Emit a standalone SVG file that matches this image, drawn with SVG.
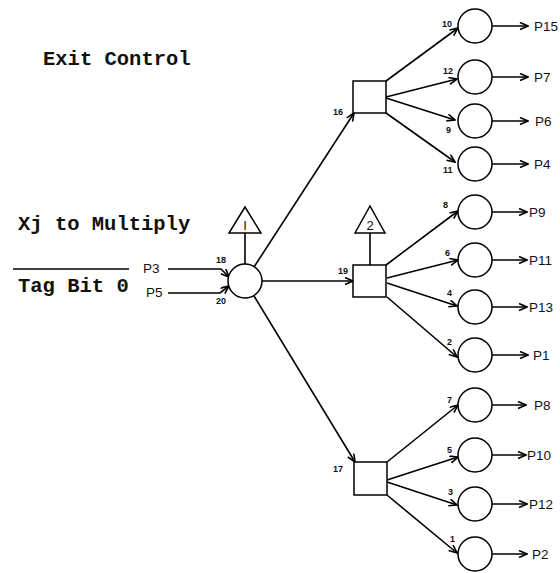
<svg xmlns="http://www.w3.org/2000/svg" width="560" height="573" viewBox="0 0 560 573">
<style>
.ln{stroke:#000;stroke-width:1.6;fill:none}
.ar{marker-end:url(#ah)}
.nd{fill:#fff;stroke:#000;stroke-width:1.5}
.t{font-family:"Liberation Mono",monospace;font-weight:bold;font-size:20.5px;fill:#111}
.p{font-family:"Liberation Sans",Arial,sans-serif;font-size:13.5px;fill:#111}
.n{font-family:"Liberation Sans",Arial,sans-serif;font-weight:bold;font-size:9px;fill:#111}
.tri{font-family:"Liberation Sans",Arial,sans-serif;font-size:13px;fill:#111}
</style>
<defs>
<marker id="ah" markerWidth="10" markerHeight="10" refX="9" refY="4" orient="auto" markerUnits="userSpaceOnUse">
<path d="M1,0.5 L9,4 L1,7.5" fill="none" stroke="#000" stroke-width="1.6"/>
</marker>
</defs>
<rect width="560" height="573" fill="#fff"/>
<g id="labels">
<text class="t" x="43" y="65">Exit Control</text>
<text class="t" x="18" y="230">Xj to Multiply</text>
<line x1="13" y1="269" x2="129" y2="269" stroke="#000" stroke-width="1.6"/>
<text class="t" x="18" y="292">Tag Bit 0</text>
</g>
<g id="connectors">
<path class="ln ar" d="M168,269 H221 L229,277"/>
<path class="ln ar" d="M168,293 H220 L229,286"/>
<line class="ln" x1="245" y1="233" x2="245" y2="264"/>
<line class="ln" x1="370" y1="233" x2="370" y2="265"/>
<line class="ln ar" x1="254" y1="267" x2="354" y2="113"/>
<line class="ln ar" x1="262" y1="281" x2="353" y2="281"/>
<line class="ln ar" x1="254" y1="296" x2="355" y2="462"/>
<line class="ln ar" x1="386" y1="81" x2="458" y2="28"/>
<line class="ln ar" x1="386" y1="97" x2="457" y2="79"/>
<line class="ln ar" x1="386" y1="98" x2="455" y2="120"/>
<line class="ln ar" x1="386" y1="113" x2="455" y2="162"/>
<line class="ln ar" x1="386" y1="265" x2="458" y2="211"/>
<line class="ln ar" x1="387" y1="278" x2="458" y2="260"/>
<line class="ln ar" x1="387" y1="283" x2="457" y2="306"/>
<line class="ln ar" x1="387" y1="297" x2="457" y2="357"/>
<line class="ln ar" x1="387" y1="462" x2="458" y2="405"/>
<line class="ln ar" x1="387" y1="480" x2="458" y2="457"/>
<line class="ln ar" x1="387" y1="482" x2="457" y2="505"/>
<line class="ln ar" x1="387" y1="495" x2="457" y2="553"/>
<line class="ln ar" x1="492" y1="26" x2="528" y2="26"/>
<line class="ln ar" x1="492" y1="77" x2="528" y2="77"/>
<line class="ln ar" x1="492" y1="121" x2="528" y2="121"/>
<line class="ln ar" x1="492" y1="164" x2="528" y2="164"/>
<line class="ln ar" x1="492" y1="212" x2="527" y2="212"/>
<line class="ln ar" x1="492" y1="260" x2="527" y2="260"/>
<line class="ln ar" x1="492" y1="307" x2="527" y2="307"/>
<line class="ln ar" x1="492" y1="355" x2="528" y2="355"/>
<line class="ln ar" x1="492" y1="405" x2="526" y2="405"/>
<line class="ln ar" x1="492" y1="455" x2="526" y2="455"/>
<line class="ln ar" x1="492" y1="504" x2="527" y2="504"/>
<line class="ln ar" x1="492" y1="554" x2="527" y2="554"/>
</g>
<g id="inputs">
<text class="p" x="143" y="273" font-size="13">P3</text>
<text class="p" x="146" y="297" font-size="13">P5</text>
<text class="n" x="216" y="263">18</text>
<text class="n" x="216" y="304">20</text>
</g>
<g id="main"><circle class="nd" cx="245" cy="281" r="17"/></g>
<g id="tri1"><polygon class="nd" points="245,207 229,233 261,233"/><text class="tri" x="245" y="230" text-anchor="middle" font-size="12">I</text></g>
<g id="tri2"><polygon class="nd" points="370,206 355,233 385,233"/><text class="tri" x="370" y="230" text-anchor="middle">2</text></g>
<g id="box16"><rect class="nd" x="353" y="81" width="33" height="32"/><text class="n" x="333" y="115">16</text></g>
<g id="box19"><rect class="nd" x="353" y="265" width="33" height="32"/><text class="n" x="338" y="274">19</text></g>
<g id="box17"><rect class="nd" x="354" y="462" width="33" height="33"/><text class="n" x="333" y="472">17</text></g>
<g id="o10"><circle class="nd" cx="475" cy="26" r="17"/><text class="n" x="442" y="27">10</text><text class="p" x="534" y="31">P15</text></g>
<g id="o12"><circle class="nd" cx="475" cy="77" r="17"/><text class="n" x="443" y="74">12</text><text class="p" x="534" y="82">P7</text></g>
<g id="o9"><circle class="nd" cx="475" cy="121" r="17"/><text class="n" x="446" y="133">9</text><text class="p" x="535" y="126">P6</text></g>
<g id="o11"><circle class="nd" cx="475" cy="164" r="17"/><text class="n" x="443" y="173">11</text><text class="p" x="534" y="169">P4</text></g>
<g id="o8"><circle class="nd" cx="475" cy="212" r="17"/><text class="n" x="443" y="208">8</text><text class="p" x="529" y="217">P9</text></g>
<g id="o6"><circle class="nd" cx="475" cy="260" r="17"/><text class="n" x="445" y="256">6</text><text class="p" x="529" y="265">P11</text></g>
<g id="o4"><circle class="nd" cx="475" cy="307" r="17"/><text class="n" x="447" y="296">4</text><text class="p" x="529" y="312">P13</text></g>
<g id="o2"><circle class="nd" cx="475" cy="355" r="17"/><text class="n" x="447" y="345">2</text><text class="p" x="533" y="360">P1</text></g>
<g id="o7"><circle class="nd" cx="475" cy="405" r="17"/><text class="n" x="447" y="403">7</text><text class="p" x="534" y="410">P8</text></g>
<g id="o5"><circle class="nd" cx="475" cy="455" r="17"/><text class="n" x="447" y="453">5</text><text class="p" x="527" y="460">P10</text></g>
<g id="o3"><circle class="nd" cx="475" cy="504" r="17"/><text class="n" x="448" y="495">3</text><text class="p" x="529" y="509">P12</text></g>
<g id="o1"><circle class="nd" cx="475" cy="554" r="17"/><text class="n" x="450" y="542">1</text><text class="p" x="532" y="559">P2</text></g>
</svg>
